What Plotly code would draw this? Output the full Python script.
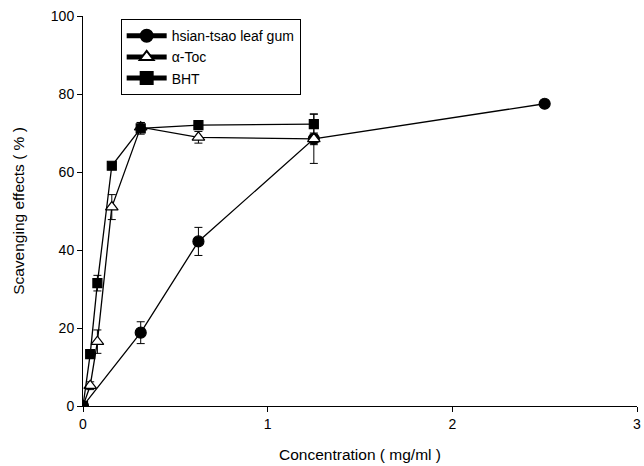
import plotly.graph_objects as go

# Data
gum_x = [0, 0.3125, 0.625, 1.25, 2.5]
gum_y = [0, 18.8, 42.2, 68.5, 77.5]
gum_err = [0, 2.8, 3.6, 6.3, 0]

toc_x = [0, 0.039, 0.078, 0.156, 0.3125, 0.625, 1.25]
toc_y = [0, 5.2, 16.5, 51.0, 71.5, 68.9, 68.5]
toc_err = [0, 1.0, 3.0, 3.2, 1.2, 1.5, 1.5]

bht_x = [0, 0.039, 0.078, 0.156, 0.3125, 0.625, 1.25]
bht_y = [0, 13.3, 31.5, 61.6, 71.2, 72.0, 72.3]
bht_err = [0, 1.0, 2.0, 0.8, 1.5, 0.8, 2.6]

series_names = ["hsian-tsao leaf gum", "\u03b1-Toc", "BHT"]
x_ticks = [0, 1, 2, 3]
y_ticks = [0, 20, 40, 60, 80, 100]

fig = go.Figure()

def add(x, y, err, name, symbol, size, fill):
    fig.add_trace(go.Scatter(
        x=x, y=y, name=name, mode="lines+markers",
        line=dict(color="black", width=1.3),
        marker=dict(symbol=symbol, size=size, color=fill,
                    line=dict(color="black", width=1.2)),
        error_y=dict(type="data", array=err, visible=True,
                     color="black", thickness=1, width=4),
    ))

add(gum_x, gum_y, gum_err, series_names[0], "circle", 11, "black")
add(toc_x, toc_y, toc_err, series_names[1], "triangle-up", 11, "white")
add(bht_x, bht_y, bht_err, series_names[2], "square", 9, "black")

font_family = "Liberation Sans, Arial, sans-serif"

fig.update_layout(
    width=644, height=466,
    margin=dict(l=83, r=7, t=16, b=60),
    paper_bgcolor="white", plot_bgcolor="white",
    font=dict(family=font_family, color="black", size=14),
    showlegend=True,
    legend=dict(
        x=0.068, y=0.992, xanchor="left", yanchor="top",
        bordercolor="black", borderwidth=1, bgcolor="white",
        font=dict(size=14), tracegroupgap=0, itemsizing="constant",
        itemwidth=40,
    ),
    xaxis=dict(
        range=[0, 3], tickvals=x_ticks, ticktext=[str(v) for v in x_ticks],
        showline=True, linecolor="black", linewidth=1,
        ticks="outside", ticklen=5, tickcolor="black",
        showgrid=False, zeroline=False, automargin=False,
        title=dict(text="Concentration ( mg/ml )", font=dict(size=15.5), standoff=18),
    ),
    yaxis=dict(
        range=[0, 100], tickvals=y_ticks, ticktext=[str(v) for v in y_ticks],
        showline=True, linecolor="black", linewidth=1,
        ticks="outside", ticklen=5, tickcolor="black",
        showgrid=False, zeroline=False, automargin=False,
        title=dict(text="Scavenging effects ( % )", font=dict(size=15.5), standoff=22),
    ),
)

fig.write_html("out.html")
